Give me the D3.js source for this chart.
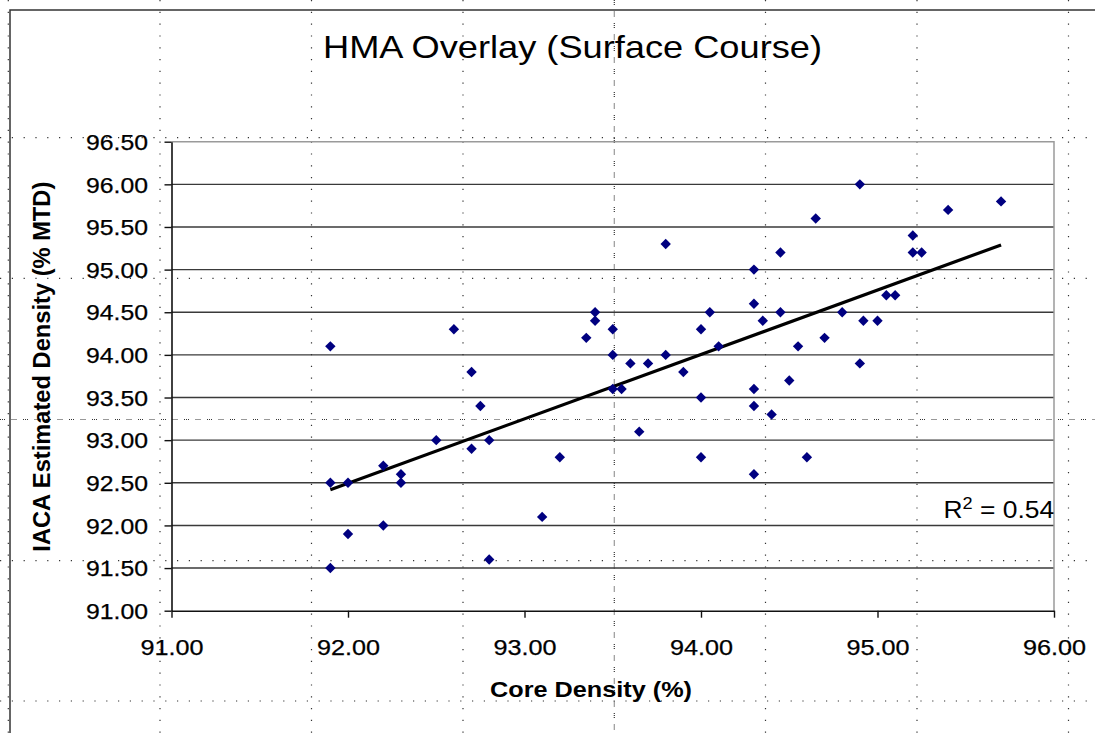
<!DOCTYPE html>
<html>
<head>
<meta charset="utf-8">
<script src="https://cdn.jsdelivr.net/npm/d3@7"></script>
<style>
  html, body { margin: 0; padding: 0; background: #fff; }
  svg { display: block; }
  text { font-family: "Liberation Sans", Arial, sans-serif; }
</style>
</head>
<body>
<svg id="chart" width="1095" height="733"></svg>
<script>
// ---------- data ----------
const coreDensity = [
  91.9, 91.9, 92.0, 91.9, 92.0, 92.2, 92.2, 92.3, 92.3, 92.5,
  92.6, 92.7, 92.7, 92.75, 92.8, 92.8, 93.1, 93.2, 93.35, 93.4,
  93.4, 93.5, 93.5, 93.5, 93.55, 93.6, 93.65, 93.7, 93.8, 93.8,
  93.9, 94.0, 94.0, 94.0, 94.05, 94.1, 94.3, 94.3, 94.3, 94.3, 94.3,
  94.35, 94.4, 94.45, 94.45, 94.5, 94.55, 94.6, 94.65, 94.7, 94.8,
  94.9, 94.9, 94.92, 95.0, 95.05, 95.1, 95.2, 95.2, 95.25, 95.4, 95.7
];
const iacaDensity = [
  94.1, 92.5, 92.5, 91.5, 91.9, 92.0, 92.7, 92.6, 92.5, 93.0,
  94.3, 93.8, 92.9, 93.4, 93.0, 91.6, 92.1, 92.8, 94.2, 94.5,
  94.4, 94.3, 94.0, 93.6, 93.6, 93.9, 93.1, 93.9, 94.0, 95.3,
  93.8, 94.3, 93.5, 92.8, 94.5, 94.1, 95.0, 94.6, 93.6, 93.4, 92.6,
  94.4, 93.3, 95.2, 94.5, 93.7, 94.1, 92.8, 95.6, 94.2, 94.5,
  96.0, 93.9, 94.4, 94.4, 94.7, 94.7, 95.4, 95.2, 95.2, 95.7, 95.8
];
const xTickValues = [91, 92, 93, 94, 95, 96];
const yTickValues = [91, 91.5, 92, 92.5, 93, 93.5, 94, 94.5, 95, 95.5, 96, 96.5];
const titleText = "HMA Overlay (Surface Course)";
const xTitleText = "Core Density (%)";
const yTitleText = "IACA Estimated Density (% MTD)";
const r2Text = "0.54";

// ---------- layout ----------
const W = 1095, H = 733;
const plot = { left: 171.5, right: 1054, top: 141.7, bottom: 610.7 };
const sheetCols = [8.3, 160, 311.5, 463, 765.5, 917, 1068.5];
const sheetRows = [137.7, 278.3, 560.7, 701];
const pageBreakCol = 614.3, pageBreakRow = 419.5;
const FONT = '"Liberation Sans", Arial, sans-serif';

const svg = d3.select("#chart");

// spreadsheet background gridlines
const sheet = svg.append("g");
sheet.selectAll("line.col").data(sheetCols).join("line")
  .attr("x1", d => d).attr("x2", d => d).attr("y1", 0).attr("y2", H)
  .attr("stroke", "#333").attr("stroke-width", 1.2)
  .attr("stroke-dasharray", "1.2 10.6");
sheet.selectAll("line.row").data(sheetRows).join("line")
  .attr("x1", 0).attr("x2", W).attr("y1", d => d).attr("y2", d => d)
  .attr("stroke", "#333").attr("stroke-width", 1.2)
  .attr("stroke-dasharray", "1.2 10.6");
sheet.append("line")
  .attr("x1", pageBreakCol).attr("x2", pageBreakCol).attr("y1", 0).attr("y2", H)
  .attr("stroke", "#333").attr("stroke-width", 1.2)
  .attr("stroke-dasharray", "1 1 1 1 1 6.5");
sheet.append("line")
  .attr("x1", 0).attr("x2", W).attr("y1", pageBreakRow).attr("y2", pageBreakRow)
  .attr("stroke", "#333").attr("stroke-width", 1.2)
  .attr("stroke-dasharray", "1 1 1 1 1 6.5");

// chart object border (top & left visible)
svg.append("path")
  .attr("d", `M10,${H} L10,10 L${W},10`)
  .attr("fill", "none").attr("stroke", "#333").attr("stroke-width", 1.5);

// ---------- scales ----------
const x = d3.scaleLinear().domain([91, 96]).range([plot.left, plot.right]);
const y = d3.scaleLinear().domain([91, 96.5]).range([plot.bottom, plot.top]);

// horizontal gridlines
svg.append("g").selectAll("line")
  .data(yTickValues.filter(v => v > 91 && v < 96.5)).join("line")
  .attr("x1", plot.left).attr("x2", plot.right)
  .attr("y1", d => y(d)).attr("y2", d => y(d))
  .attr("stroke", "#3a3a3a").attr("stroke-width", 1.4);

// plot border top/right (gray)
svg.append("path")
  .attr("d", `M${plot.left},${plot.top} L${plot.right},${plot.top} L${plot.right},${plot.bottom}`)
  .attr("fill", "none").attr("stroke", "#9a9a9a").attr("stroke-width", 1.5);

// axes
const yAxis = svg.append("g")
  .attr("transform", `translate(${plot.left},0)`)
  .call(d3.axisLeft(y).tickValues(yTickValues).tickFormat(d3.format(".2f"))
    .tickSize(7).tickSizeOuter(0).tickPadding(16));
yAxis.select(".domain").attr("stroke", "#111").attr("stroke-width", 1.6);
yAxis.selectAll(".tick line").attr("stroke", "#111").attr("stroke-width", 1.4);
yAxis.selectAll(".tick text")
  .attr("font-family", FONT).attr("font-size", 21.5).attr("fill", "#000")
  .attr("stroke", "#000").attr("stroke-width", 0.25)
  .attr("x", -23.5).attr("dy", "0.36em")
  .attr("textLength", 62).attr("lengthAdjust", "spacingAndGlyphs");

const xAxis = svg.append("g")
  .attr("transform", `translate(0,${plot.bottom})`)
  .call(d3.axisBottom(x).tickValues(xTickValues).tickFormat(d3.format(".2f"))
    .tickSize(7).tickSizeOuter(0));
xAxis.select(".domain").attr("stroke", "#111").attr("stroke-width", 1.6);
xAxis.selectAll(".tick line").attr("stroke", "#111").attr("stroke-width", 1.4);
xAxis.selectAll(".tick text")
  .attr("font-family", FONT).attr("font-size", 21.5).attr("fill", "#000")
  .attr("stroke", "#000").attr("stroke-width", 0.25)
  .attr("y", 44.5).attr("dy", 0)
  .attr("textLength", 63).attr("lengthAdjust", "spacingAndGlyphs");

// ---------- trend line (least squares from the data) ----------
const n = coreDensity.length;
const mx = d3.mean(coreDensity), my = d3.mean(iacaDensity);
let sxy = 0, sxx = 0;
for (let i = 0; i < n; i++) {
  sxy += (coreDensity[i] - mx) * (iacaDensity[i] - my);
  sxx += (coreDensity[i] - mx) ** 2;
}
const slope = sxy / sxx, intercept = my - slope * mx;
const xExt = d3.extent(coreDensity);
const trend = xExt.map(v => [v, intercept + slope * v]);
svg.append("path")
  .datum(trend)
  .attr("d", d3.line().x(d => x(d[0])).y(d => y(d[1])))
  .attr("fill", "none").attr("stroke", "#000").attr("stroke-width", 3.2)
  .attr("stroke-linecap", "butt");

// ---------- markers ----------
const diamond = "M0,-5.2L5.2,0L0,5.2L-5.2,0Z";
svg.append("g").selectAll("path")
  .data(d3.range(n)).join("path")
  .attr("d", diamond)
  .attr("transform", i => `translate(${x(coreDensity[i])},${y(iacaDensity[i])})`)
  .attr("fill", "#000080");

// ---------- texts ----------
svg.append("text")
  .attr("x", 572.5).attr("y", 58)
  .attr("text-anchor", "middle")
  .attr("font-size", 32).attr("fill", "#000")
  .attr("textLength", 499).attr("lengthAdjust", "spacingAndGlyphs")
  .text(titleText);

svg.append("text")
  .attr("x", 591).attr("y", 697)
  .attr("text-anchor", "middle")
  .attr("font-size", 22).attr("font-weight", "bold").attr("fill", "#000")
  .attr("textLength", 202).attr("lengthAdjust", "spacingAndGlyphs")
  .text(xTitleText);

svg.append("text")
  .attr("transform", "translate(50,366.7) rotate(-90)")
  .attr("text-anchor", "middle")
  .attr("font-size", 23).attr("font-weight", "bold").attr("fill", "#000")
  .attr("textLength", 370).attr("lengthAdjust", "spacingAndGlyphs")
  .text(yTitleText);

const r2 = svg.append("g").attr("transform", "translate(943.5,518.3) scale(1.1,1)")
  .append("text").attr("font-size", 24).attr("fill", "#000");
r2.append("tspan").text("R");
r2.append("tspan").attr("font-size", 16.5).attr("dy", -9).text("2");
r2.append("tspan").attr("dy", 9).text(" = " + r2Text);
</script>
</body>
</html>
